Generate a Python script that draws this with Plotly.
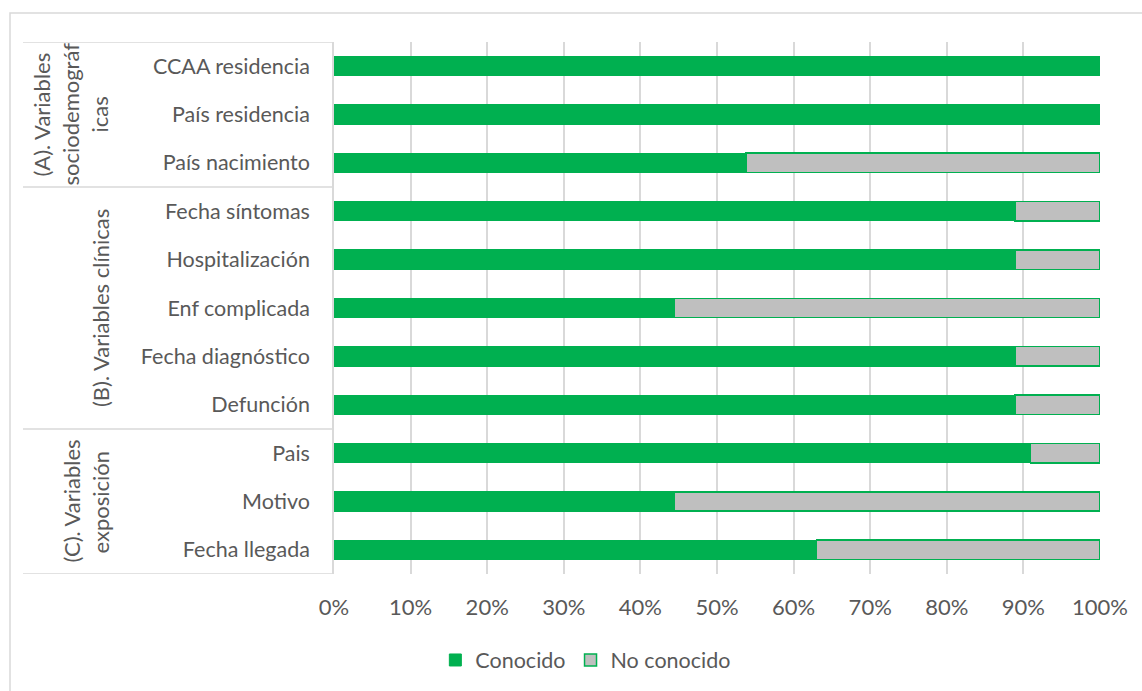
import plotly.graph_objects as go

# ---------------- data ----------------
categories = ["CCAA residencia", "País residencia", "País nacimiento",
              "Fecha síntomas", "Hospitalización", "Enf complicada",
              "Fecha diagnóstico", "Defunción",
              "Pais", "Motivo", "Fecha llegada"]
conocido = [100, 100, 53.8, 88.9, 88.9, 44.4, 88.9, 88.9, 90.9, 44.4, 63.0]
no_conocido = [round(100 - v, 1) for v in conocido]
group_lines = [["(A). Variables", "sociodemográf", "icas"],
               ["(B). Variables clínicas"],
               ["(C). Variables", "exposición"]]
group_sizes = [3, 5, 3]
x_ticks = [0, 10, 20, 30, 40, 50, 60, 70, 80, 90, 100]
x_ticktext = [f"{t}%" for t in x_ticks]

# ---------------- layout constants ----------------
W, H = 1142, 691
ML, MR, MT, MB = 334, 42, 42, 117
PW = W - ML - MR
PH = H - MT - MB
FONT = "Lato, Calibri, Carlito, sans-serif"
TXT = "#595959"
GREEN = "#00B050"
GRAY = "#BFBFBF"
GRID = "#D9D9D9"


def px2paper(px):
    return (px - ML) / PW


fig = go.Figure()
fig.add_trace(go.Bar(
    y=categories, x=conocido, orientation="h", name="Conocido",
    marker=dict(color=GREEN, line=dict(color=GREEN, width=1)),
))
fig.add_trace(go.Bar(
    y=categories, x=no_conocido, orientation="h", name="No conocido",
    marker=dict(color=GRAY, line=dict(color=GREEN, width=1.5)),
))

shapes = []
annotations = []
# group table lines
bounds = [-0.5]
for s in group_sizes:
    bounds.append(bounds[-1] + s)
for b in bounds:
    shapes.append(dict(type="line", xref="paper", yref="y",
                       x0=px2paper(23), x1=0, y0=b, y1=b,
                       line=dict(color=GRID, width=1.5)))
# group labels
for lines, b0, b1 in zip(group_lines, bounds[:-1], bounds[1:]):
    yc = (b0 + b1) / 2
    n = len(lines)
    for k, t in enumerate(lines):
        xpx = 100 - 29 * (n - 1 - k)
        annotations.append(dict(text=t, textangle=-90, xref="paper", yref="y",
                                x=px2paper(xpx), y=yc, xanchor="center",
                                yanchor="middle", showarrow=False,
                                font=dict(family=FONT, size=22, color=TXT)))
# outer chart border
shapes.append(dict(type="rect", xref="paper", yref="paper",
                   x0=px2paper(10), x1=px2paper(W + 20),
                   y0=-(MB + 20) / PH,
                   y1=1 + (MT - 13) / PH,
                   line=dict(color=GRID, width=1.5), fillcolor="rgba(0,0,0,0)",
                   layer="below"))

fig.update_layout(
    width=W, height=H,
    margin=dict(l=ML, r=MR, t=MT, b=MB),
    barmode="stack", bargap=0.6,
    plot_bgcolor="white", paper_bgcolor="white",
    font=dict(family=FONT, size=21.5, color=TXT),
    showlegend=True,
    legend=dict(orientation="h", xref="container", yref="container",
                x=0.513, y=1 - 660 / H, xanchor="center", yanchor="middle",
                font=dict(family=FONT, size=21.5, color=TXT),
                itemclick=False, traceorder="normal", itemwidth=30),
    shapes=shapes, annotations=annotations,
    xaxis=dict(range=[0, 100], tickvals=x_ticks, ticktext=x_ticktext,
               showgrid=True, gridcolor=GRID, gridwidth=1.5, zeroline=False,
               showline=False, ticks="", ticklabelstandoff=18,
               tickfont=dict(family=FONT, size=22, color=TXT), fixedrange=True),
    yaxis=dict(categoryorder="array", categoryarray=categories,
               range=[10.5, -0.5], showgrid=False, zeroline=False,
               showline=True, linecolor=GRID, linewidth=1.5, ticks="",
               ticklabelstandoff=18,
               tickfont=dict(family=FONT, size=21.5, color=TXT), fixedrange=True),
)

fig.write_html("out.html")
